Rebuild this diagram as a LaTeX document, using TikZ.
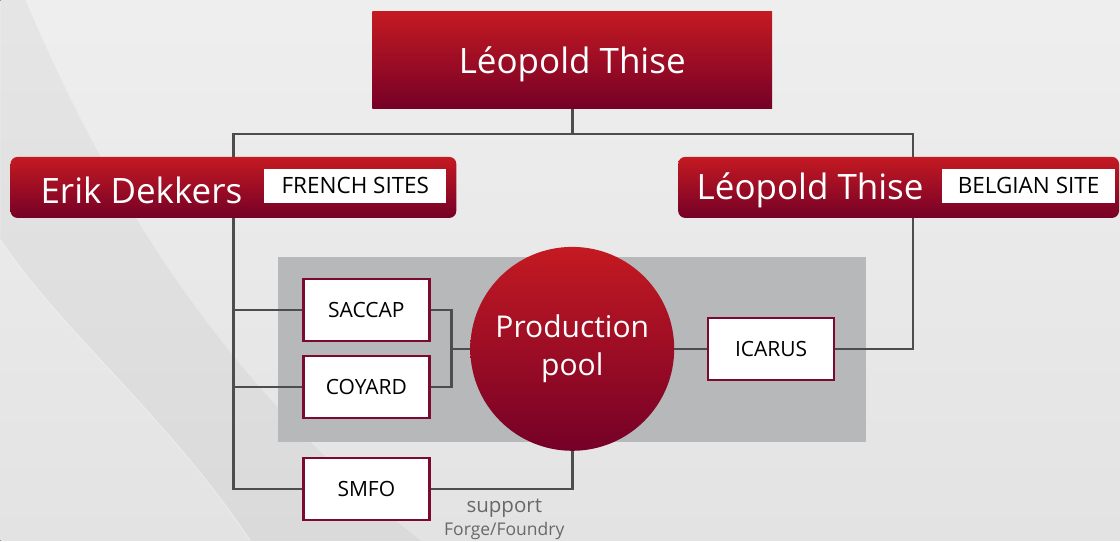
\documentclass[tikz,border=0pt]{standalone}
\usepackage{fontspec}
\setmainfont{Open Sans}
\usepackage{tikz}
\usetikzlibrary{positioning}

\definecolor{redtop}{HTML}{C41A22}
\definecolor{redbot}{HTML}{750027}
\definecolor{wine}{HTML}{7B0A2E}
\definecolor{wire}{HTML}{4D4D4D}
\definecolor{panelgray}{HTML}{B7B8BA}

\begin{document}
\begin{tikzpicture}[x=1pt, y=-1pt,
		redbox/.style={top color=redtop, bottom color=redbot, inner sep=0pt},
		tag/.style={fill=white, inner sep=0pt, minimum height=34pt, text=black, font=\fontsize{22.5}{26}\selectfont},
		site/.style={draw=wine, line width=2.5pt, fill=white, minimum width=126pt, minimum height=62pt, font=\fontsize{21}{24}\selectfont},
		conn/.style={draw=wire, line width=2.5pt},
		big/.style={text=white, font=\fontsize{35}{40}\selectfont}]
		% background
		\fill[top color=gray!13, bottom color=gray!22] (0,0) rectangle (1120,541);
		\fill[black, opacity=0.035] (25,0) .. controls (110,200) and (220,380) .. (420,541) -- (250,541) .. controls (170,420) and (60,330) .. (0,240) -- (0,0) -- cycle;
		\draw[white, opacity=0.35, line width=1pt] (0,240) .. controls (60,330) and (170,420) .. (250,541);
		\useasboundingbox (0,0) rectangle (1120,541);

		\node (panel) [fill=panelgray, minimum width=588pt, minimum height=185pt, inner sep=0pt] at (572,349.5) {};

		\node (top) [redbox, minimum width=400pt, minimum height=97pt] at (572,60.5) {};
		\node (topname) [big] at (572,64) {Léopold Thise};

		\node (erikbox) [redbox, rounded corners=7pt, minimum width=446pt, minimum height=61pt] at (233,187.5) {};
		\node (erik) [big] at (141,190) {Erik Dekkers};
		\node (french) [tag, minimum width=182pt] at (355,186) {FRENCH SITES};

		\node (belgbox) [redbox, rounded corners=7pt, minimum width=441pt, minimum height=61pt] at (898.5,187.5) {};
		\node (leopold) [big] at (810,190) {Léopold Thise};
		\node (belgian) [tag, minimum width=173pt] at (1028.5,186) {BELGIAN SITE};

		\node (pool) [circle, redbox, minimum size=204pt, text=white, align=center, font=\fontsize{30}{38}\selectfont] at (572,349) {Production\\pool};

		\node (saccap) [site] at (366,310) {SACCAP};
		\node (coyard) [site] at (366,387) {COYARD};
		\node (smfo) [site] at (366,489) {SMFO};
		\node (icarus) [site] at (771,349) {ICARUS};

		\node (support) [text=wire!85, font=\fontsize{20.5}{22}\selectfont] at (504,508) {support};
		\node (forge) [text=wire!85, font=\fontsize{17.5}{20}\selectfont] at (504,531) {Forge/Foundry};

		\coordinate (bus) at (572,134);
		\coordinate (rtop) at (913,157);
		\coordinate (rbot) at (913,218);

		\draw[conn] (top.south) -- (bus);
		\draw[conn] (erikbox.north) |- (bus);
		\draw[conn] (rtop) |- (bus);

		\draw[conn] (erikbox.south) -- (erikbox.south |- smfo.west) -- (smfo.west);
		\draw[conn] (erikbox.south |- saccap.west) -- (saccap.west);
		\draw[conn] (erikbox.south |- coyard.west) -- (coyard.west);

		\draw[conn] (saccap.east) -- ++(21,0) |- (pool.west);
		\draw[conn] (coyard.east) -- ++(21,0) |- (pool.west);
		\draw[conn] (smfo.east) -| (pool.south);
		\draw[conn] (pool.east) -- (icarus.west);
		\draw[conn] (icarus.east) -| (rbot);
\end{tikzpicture}
\end{document}
